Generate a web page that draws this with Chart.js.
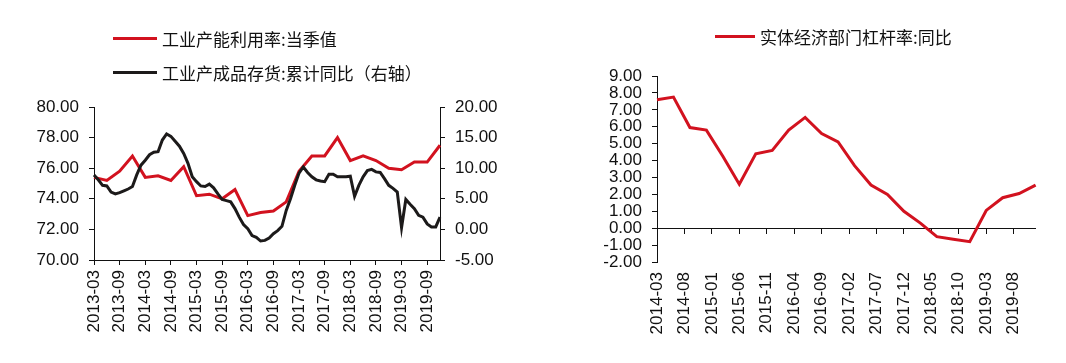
<!DOCTYPE html>
<html>
<head>
<meta charset="utf-8">
<script src="https://cdn.jsdelivr.net/npm/chart.js@4/dist/chart.umd.min.js"></script>
<style>
  body { margin: 0; background: #fff; width: 1066px; height: 363px; position: relative; overflow: hidden; }
  canvas { position: absolute; top: 0; }
  #c1 { left: 0; }
  #c2 { left: 545px; }
  .leg { position: absolute; display: flex; align-items: center; height: 20px;
         font-family: "Noto Sans CJK SC", sans-serif; font-size: 17px; color: #111; white-space: nowrap; }
  .leg i { display: inline-block; height: 3px; margin-right: 5px; }
</style>
</head>
<body>
<canvas id="c1" width="545" height="363"></canvas>
<canvas id="c2" width="521" height="363"></canvas>
<div class="leg" style="left:113px; top:28px;"><i style="width:44px; background:#d2121f;"></i>工业产能利用率:当季值</div>
<div class="leg" style="left:113px; top:62px;"><i style="width:44px; background:#1c1a1a;"></i>工业产成品存货:累计同比（右轴）</div>
<div class="leg" style="left:715px; top:26px;"><i style="width:40px; background:#d2121f;"></i>实体经济部门杠杆率:同比</div>
<script>
const RED = '#d2121f';
const BLACK = '#1c1a1a';

// monthly category labels
function months(y0, m0, y1, m1) {
  const out = [];
  for (let y = y0, m = m0; y < y1 || (y === y1 && m <= m1); m++) {
    if (m > 12) { m = 1; y++; }
    if (y > y1 || (y === y1 && m > m1)) break;
    out.push(y + '-' + String(m).padStart(2, '0'));
  }
  return out;
}

const leftMonths = months(2013, 3, 2019, 12);
const rightMonths = months(2014, 3, 2019, 12);

// 工业产能利用率:当季值 (quarterly)
const capQuarters = ['2013-03','2013-06','2013-09','2013-12','2014-03','2014-06','2014-09','2014-12',
  '2015-03','2015-06','2015-09','2015-12','2016-03','2016-06','2016-09','2016-12',
  '2017-03','2017-06','2017-09','2017-12','2018-03','2018-06','2018-09','2018-12',
  '2019-03','2019-06','2019-09','2019-12'];
const capUtil = [75.4, 75.2, 75.8, 76.8, 75.4, 75.5, 75.2, 76.1,
  74.2, 74.3, 74.0, 74.6, 72.9, 73.1, 73.2, 73.8,
  75.8, 76.8, 76.8, 78.0, 76.5, 76.8, 76.5, 76.0,
  75.9, 76.4, 76.4, 77.5];

// 工业产成品存货:累计同比 (monthly, right axis)
const inventoryYoY = [8.9, 8.1, 7.2, 7.1, 6.1, 5.8, 6.0, 6.3, 6.6, 7.0,
  8.9, 10.5, 11.3, 12.2, 12.6, 12.7, 14.6, 15.6, 15.2, 14.4,
  13.6, 12.4, 10.8, 8.6, 7.8, 7.1, 7.0, 7.4, 6.8, 5.8,
  4.9, 4.7, 4.5, 3.4, 2.0, 0.8, 0.1, -1.0, -1.3, -1.9,
  -1.8, -1.4, -0.7, -0.2, 0.5, 3.1, 5.0, 7.2, 9.2, 10.2,
  9.3, 8.6, 8.1, 7.9, 7.8, 9.0, 9.0, 8.6, 8.6, 8.6,
  8.7, 5.4, 7.2, 8.6, 9.6, 9.8, 9.4, 9.3, 8.3, 7.2,
  6.7, 6.1, 0.3, 4.9, 4.1, 3.4, 2.3, 2.0, 0.9, 0.4,
  0.4, 2.0];

// 实体经济部门杠杆率:同比 (quarterly)
const levQuarters = ['2014-03','2014-06','2014-09','2014-12','2015-03','2015-06','2015-09','2015-12',
  '2016-03','2016-06','2016-09','2016-12','2017-03','2017-06','2017-09','2017-12',
  '2018-03','2018-06','2018-09','2018-12','2019-03','2019-06','2019-09','2019-12'];
const leverageYoY = [7.6, 7.75, 5.95, 5.8, 4.25, 2.6, 4.4, 4.6,
  5.8, 6.55, 5.6, 5.1, 3.7, 2.55, 2.0, 1.0,
  0.3, -0.5, -0.65, -0.8, 1.05, 1.8, 2.05, 2.55];

Chart.defaults.font.family = '"Liberation Sans", Arial, sans-serif';
Chart.defaults.font.size = 17;
Chart.defaults.color = '#111';
Chart.defaults.animation = false;

const fix2 = v => Number(v).toFixed(2);
const tickEvery = n => c => (c.index % n === 0 ? '#111' : 'rgba(0,0,0,0)');

new Chart(document.getElementById('c1'), {
  type: 'line',
  data: {
    labels: leftMonths,
    datasets: [
      {
        label: '工业产成品存货:累计同比（右轴）',
        data: inventoryYoY,
        yAxisID: 'y1',
        borderColor: BLACK,
        borderWidth: 3,
        pointRadius: 0,
        tension: 0,
        order: 0
      },
      {
        label: '工业产能利用率:当季值',
        data: capQuarters.map((q, i) => ({ x: q, y: capUtil[i] })),
        yAxisID: 'y',
        borderColor: RED,
        borderWidth: 3,
        pointRadius: 0,
        tension: 0,
        order: 1
      }
    ]
  },
  options: {
    responsive: false,
    layout: { padding: { top: 107, left: 0, right: 0, bottom: 0 } },
    plugins: { legend: { display: false }, tooltip: { enabled: false } },
    scales: {
      x: {
        grid: { drawOnChartArea: false, tickLength: 5, tickColor: tickEvery(6) },
        border: { color: '#111' },
        ticks: {
          autoSkip: false, minRotation: 90, maxRotation: 90, padding: 5,
          callback: (v, i) => (i % 6 === 0 ? leftMonths[i] : '')
        },
        afterFit: s => { s.height = 103; }
      },
      y: {
        position: 'left', min: 70, max: 80,
        grid: { drawOnChartArea: false, tickLength: 5, tickColor: '#111' },
        border: { color: '#111' },
        ticks: { stepSize: 2, padding: 10, autoSkip: false, callback: fix2 },
        afterFit: s => { s.width = 94; }
      },
      y1: {
        position: 'right', min: -5, max: 20,
        grid: { drawOnChartArea: false, tickLength: 5, tickColor: '#111' },
        border: { color: '#111' },
        ticks: { stepSize: 5, padding: 10, autoSkip: false, callback: fix2 },
        afterFit: s => { s.width = 105; }
      }
    }
  }
});

new Chart(document.getElementById('c2'), {
  type: 'line',
  data: {
    labels: rightMonths,
    datasets: [{
      label: '实体经济部门杠杆率:同比',
      data: levQuarters.map((q, i) => ({ x: q, y: leverageYoY[i] })),
      borderColor: RED,
      borderWidth: 3,
      pointRadius: 0,
      tension: 0
    }]
  },
  options: {
    responsive: false,
    layout: { padding: { top: 76, left: 0, right: 0, bottom: 0 } },
    plugins: { legend: { display: false }, tooltip: { enabled: false } },
    scales: {
      x: {
        grid: { display: false, drawTicks: false },
        border: { display: false },
        ticks: {
          autoSkip: false, minRotation: 90, maxRotation: 90, padding: 10,
          callback: (v, i) => (i % 5 === 0 ? rightMonths[i] : '')
        },
        afterFit: s => { s.height = 101; }
      },
      x2: {
        type: 'category', axis: 'x', position: { y: 0 },
        grid: { drawOnChartArea: false, tickLength: 5, tickColor: tickEvery(5) },
        border: { display: true, color: '#111' },
        ticks: { display: false, autoSkip: false },
        afterFit: s => { s.height = 0; }
      },
      y: {
        position: 'left', min: -2, max: 9,
        grid: { drawOnChartArea: false, tickLength: 5, tickColor: '#111' },
        border: { color: '#111' },
        ticks: { stepSize: 1, padding: 10, autoSkip: false, callback: fix2 },
        afterFit: s => { s.width = 112; }
      }
    }
  }
});
</script>
</body>
</html>
